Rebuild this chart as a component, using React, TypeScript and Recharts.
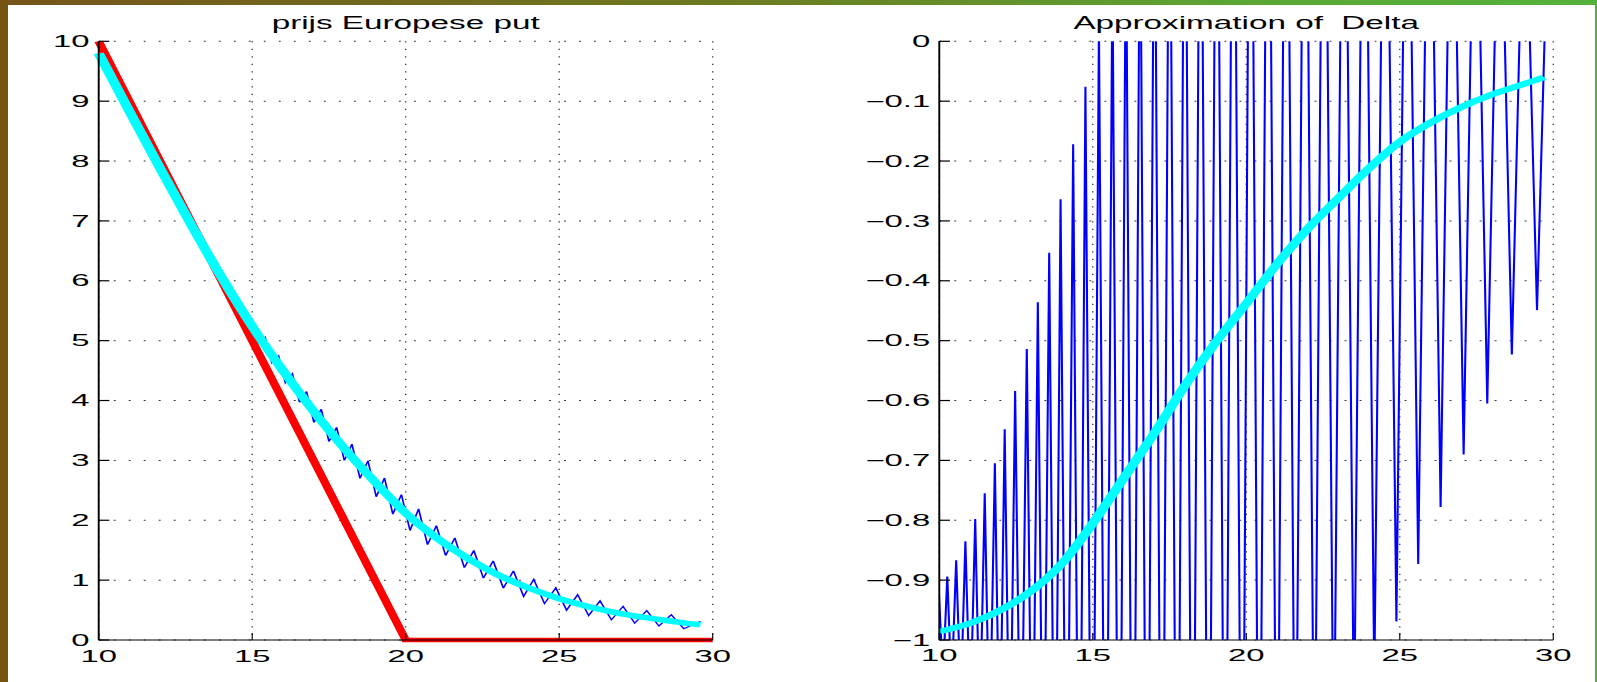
import { LineChart, Line, XAxis, YAxis, CartesianGrid } from "recharts"

// ticks
const xTicks = [10, 15, 20, 25, 30]
const priceTicks = [0, 1, 2, 3, 4, 5, 6, 7, 8, 9, 10]
const deltaTicks = [-1, -0.9, -0.8, -0.7, -0.6, -0.5, -0.4, -0.3, -0.2, -0.1, 0]

// payoff max(20 - S, 0)
const payoffX = [10, 20, 30]
const payoffY = [10, 0, 0]

// smooth (exact) put price, cyan
const bsPriceX = [10, 11, 12, 13, 14, 15, 16, 17, 18, 19, 20, 21, 22, 23, 24, 25, 26, 27, 28, 29, 29.6]
const bsPriceY = [9.8, 8.83, 7.88, 6.95, 6.06, 5.24, 4.5, 3.82, 3.2, 2.64, 2.12, 1.71, 1.37, 1.09, 0.87, 0.69, 0.55, 0.44, 0.36, 0.29, 0.255]

// approximated put price, blue zigzag
const binPriceX = [
  10.0, 10.12, 10.26, 10.4, 10.55, 10.7, 10.85, 11.01, 11.17, 11.32, 11.48, 11.64, 11.81, 11.97, 12.13, 12.3,
  12.47, 12.66, 12.85, 13.03, 13.21, 13.39, 13.58, 13.77, 13.95, 14.15, 14.36, 14.56, 14.76, 14.98, 15.2, 15.42,
  15.64, 15.86, 16.08, 16.31, 16.54, 16.77, 17.01, 17.25, 17.5, 17.75, 18.0, 18.25, 18.51, 18.77, 19.04, 19.31,
  19.58, 19.86, 20.14, 20.42, 20.71, 21.0, 21.3, 21.6, 21.91, 22.22, 22.53, 22.85, 23.18, 23.51, 23.84, 24.17,
  24.52, 24.89, 25.24, 25.6, 25.96, 26.33, 26.7, 27.08, 27.46, 27.85, 28.25, 28.65, 29.06, 29.6,
]
const binPriceY = [
  9.795, 9.689, 9.542, 9.419, 9.255, 9.13, 8.964, 8.832, 8.656, 8.541, 8.357, 8.241, 8.04, 7.932, 7.733, 7.629,
  7.412, 7.301, 7.042, 6.975, 6.707, 6.664, 6.369, 6.337, 6.028, 6.02, 5.668, 5.703, 5.328, 5.371, 4.97, 5.059,
  4.63, 4.745, 4.295, 4.447, 3.971, 4.151, 3.635, 3.855, 3.315, 3.552, 2.998, 3.271, 2.7, 2.994, 2.392, 2.707,
  2.101, 2.43, 1.828, 2.19, 1.591, 1.91, 1.411, 1.705, 1.207, 1.497, 1.032, 1.322, 0.866, 1.155, 0.729, 1.013,
  0.609, 0.872, 0.498, 0.756, 0.409, 0.653, 0.337, 0.562, 0.28, 0.49, 0.233, 0.421, 0.189, 0.31,
]

// exact delta, cyan
const bsDeltaX = [10, 11, 12, 13, 14, 15, 16, 17, 18, 19, 20, 21, 22, 23, 24, 25, 26, 27, 28, 29, 29.7]
const bsDeltaY = [-0.986, -0.972, -0.95, -0.918, -0.872, -0.805, -0.73, -0.655, -0.575, -0.503, -0.438, -0.372, -0.313, -0.262, -0.212, -0.168, -0.136, -0.11, -0.089, -0.072, -0.06]

// approximated delta, blue (oscillates far outside the axes)
const binDeltaX = [
  9.98, 10.12, 10.26, 10.4, 10.55, 10.7, 10.85, 11.01, 11.17, 11.32, 11.48, 11.64, 11.81, 11.97, 12.13, 12.3,
  12.47, 12.66, 12.85, 13.03, 13.21, 13.39, 13.58, 13.77, 13.95, 14.15, 14.36, 14.56, 14.76, 14.98, 15.2, 15.42,
  15.64, 15.86, 16.08, 16.31, 16.54, 16.77, 17.01, 17.25, 17.5, 17.75, 18.0, 18.25, 18.51, 18.77, 19.04, 19.31,
  19.58, 19.86, 20.14, 20.42, 20.71, 21.0, 21.3, 21.6, 21.91, 22.22, 22.53, 22.85, 23.18, 23.51, 23.84, 24.17,
  24.52, 24.89, 25.24, 25.6, 25.96, 26.33, 26.7, 27.08, 27.46, 27.85, 28.25, 28.65, 29.06, 29.47, 29.88,
]
const binDeltaY = [
  -0.915, -1.062, -0.894, -1.081, -0.867, -1.101, -0.835, -1.127, -0.798, -1.155, -0.755, -1.186, -0.705, -1.225, -0.648, -1.265,
  -0.584, -1.309, -0.514, -1.357, -0.436, -1.405, -0.353, -1.456, -0.264, -1.502, -0.172, -1.545, -0.076, -1.586, 0.025, -1.623,
  0.128, -1.661, 0.226, -1.687, 0.321, -1.712, 0.416, -1.725, 0.495, -1.725, 0.575, -1.722, 0.642, -1.71, 0.7, -1.688,
  0.745, -1.652, 0.771, -1.6, 0.784, -1.532, 0.786, -1.452, 0.772, -1.362, 0.744, -1.27, 0.717, -1.171, 0.68, -1.07,
  0.641, -0.969, 0.603, -0.873, 0.553, -0.778, 0.502, -0.69, 0.45, -0.605, 0.395, -0.523, 0.344, -0.449, 0.305,
]

const zip = (xs: number[], ys: number[]) => xs.map((x, i) => ({ x, y: ys[i] }))

const payoff = zip(payoffX, payoffY)
const bsPrice = zip(bsPriceX, bsPriceY)
const binPrice = zip(binPriceX, binPriceY)
const bsDelta = zip(bsDeltaX, bsDeltaY)
const binDelta = zip(binDeltaX, binDeltaY)

// the original picture is stretched sideways, so every panel is drawn narrow and scaled
const S = 1.9
const H = 682
const PLOT_W = 614 / S
const FONT = '"Liberation Sans", Arial, Helvetica, sans-serif'

const fmtDelta = (v: number) => (v === 0 ? "0" : "\u2212" + String(Math.abs(v)))

const XTick = (p: any) => (
  <g>
    <line x1={p.x} y1={p.y} x2={p.x} y2={p.y - 7} stroke="#000" strokeWidth={0.6} />
    <text transform={`translate(${p.x} ${p.y + 21.5}) scale(1.08 1)`} textAnchor="middle" fontSize={16} fontFamily={FONT} fill="#000">
      {p.payload.value}
    </text>
  </g>
)

const YTick = (p: any) => (
  <g>
    <line x1={p.x} y1={p.y} x2={p.x + 5.6} y2={p.y} stroke="#000" strokeWidth={1.2} />
    <text transform={`translate(${p.x - 4.8} ${p.y + 5.7}) scale(1.08 1)`} textAnchor="end" fontSize={16} fontFamily={FONT} fill="#000">
      {p.fmt(p.payload.value)}
    </text>
  </g>
)

const Panel = (props: any) => {
  const { left, width, plotLeft, title, titleCenter, yDomain, yTicks, fmt, clip, children } = props
  return (
    <div style={{ position: "absolute", left, top: 0, width, height: H, transform: `scaleX(${S})`, transformOrigin: "0 0" }}>
      <div
        style={{
          position: "absolute", left: titleCenter - 200, top: 12.6, width: 400, textAlign: "center",
          fontFamily: FONT, fontSize: 17.5, lineHeight: "20px", whiteSpace: "pre", color: "#000",
        }}
      >
        {title}
      </div>
      <LineChart width={width} height={H} margin={{ top: 41.3, right: width - plotLeft - PLOT_W, bottom: 12, left: 0 }}>
        <CartesianGrid vertical={false} stroke="#333" strokeDasharray="1 6.9" />
        <CartesianGrid horizontal={false} stroke="#333" strokeWidth={0.7} strokeDasharray="1.3 6.2" />
        <XAxis
          type="number" dataKey="x" domain={[10, 30]} ticks={xTicks} interval={0} allowDataOverflow={clip}
          height={30} tickLine={false} tickSize={0} tickMargin={0}
          axisLine={{ stroke: "#000", strokeWidth: 1.2 }} tick={(p: any) => <XTick {...p} />}
        />
        <YAxis
          type="number" domain={yDomain} ticks={yTicks} interval={0} allowDataOverflow={clip} width={plotLeft}
          tickLine={false} tickSize={0} tickMargin={0}
          axisLine={{ stroke: "#000", strokeWidth: 1 }} tick={(p: any) => <YTick {...p} fmt={fmt} />}
        />
        {children}
      </LineChart>
    </div>
  )
}

export default function App() {
  return (
    <div style={{ position: "absolute", left: 0, top: 0, width: 1597, height: H, background: "#fff", overflow: "hidden" }}>
      <div style={{ position: "absolute", left: 0, top: 0, width: 1597, height: 5, background: "linear-gradient(to right, #76541a 0%, #6d7a20 45%, #5aa838 80%, #55b03c 100%)" }} />
      <div style={{ position: "absolute", left: 0, top: 0, width: 8, height: H, background: "#76530f" }} />
      <div style={{ position: "absolute", left: 1595, top: 0, width: 2, height: H, background: "#57b03a" }} />

      <Panel
        left={0} width={400} plotLeft={51.95} title="prijs Europese put" titleCenter={213.5}
        yDomain={[0, 10]} yTicks={priceTicks} fmt={(v: number) => String(v)} clip={false}
      >
        <Line data={payoff} dataKey="y" type="linear" stroke="#ff0000" strokeWidth={4.6} dot={false} isAnimationActive={false} />
        <Line data={binPrice} dataKey="y" type="linear" stroke="#0000ff" strokeWidth={0.9} dot={false} isAnimationActive={false} />
        <Line data={bsPrice} dataKey="y" type="monotone" stroke="#00ffff" strokeWidth={5.5} dot={false} isAnimationActive={false} />
      </Panel>

      <Panel
        left={760} width={440.53} plotLeft={94.37} title="Approximation of  Delta" titleCenter={255.9}
        yDomain={[-1, 0]} yTicks={deltaTicks} fmt={fmtDelta} clip={true}
      >
        <Line data={binDelta} dataKey="y" type="linear" stroke="#0000ff" strokeWidth={1.1} dot={false} isAnimationActive={false} />
        <Line data={bsDelta} dataKey="y" type="monotone" stroke="#00ffff" strokeWidth={5.5} dot={false} isAnimationActive={false} />
      </Panel>
    </div>
  )
}
